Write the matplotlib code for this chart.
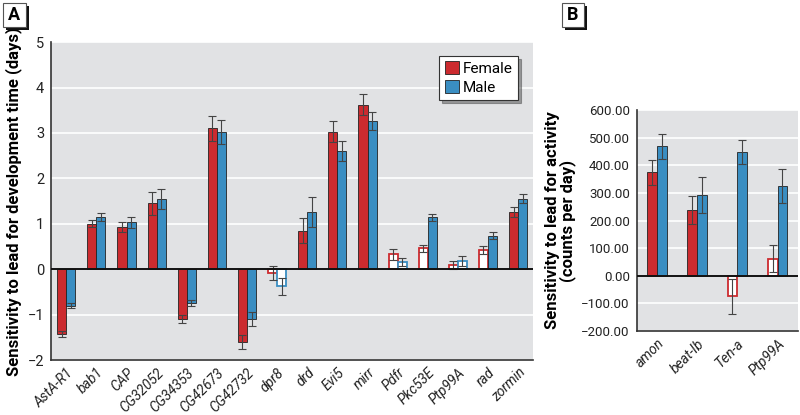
import matplotlib

matplotlib.use("Agg")
import matplotlib.pyplot as plt
import matplotlib.patches as mpatches
import numpy as np

RED = "#cc2b2f"
BLUE = "#3a8ec2"
BG = "#e1e2e4"
DARK = "#333333"

plt.rcParams["font.family"] = ["Roboto", "DejaVu Sans"]

# ── Panel A data ─────────────────────────────────────────────────────────────
genes_a = ["AstA-R1", "bab1", "CAP", "CG32052", "CG34353", "CG42673", "CG42732",
           "dpr8", "drd", "Evi5", "mirr", "Pdfr", "Pkc53E", "Ptp99A", "rad", "zormin"]
female_a = [-1.43, 1.00, 0.93, 1.45, -1.10, 3.10, -1.60, -0.08, 0.85, 3.03, 3.62,
            0.33, 0.46, 0.09, 0.42, 1.26]
female_a_err = [0.06, 0.08, 0.11, 0.25, 0.09, 0.27, 0.15, 0.16, 0.28, 0.23, 0.23,
                0.12, 0.08, 0.09, 0.09, 0.10]
male_a = [-0.80, 1.15, 1.03, 1.55, -0.75, 3.02, -1.10, -0.38, 1.25, 2.60, 3.27,
          0.16, 1.14, 0.19, 0.74, 1.55]
male_a_err = [0.05, 0.09, 0.13, 0.22, 0.07, 0.26, 0.15, 0.18, 0.33, 0.22, 0.20,
              0.08, 0.07, 0.11, 0.07, 0.10]
female_a_open = [False] * 7 + [True, False, False, False, True, True, True, True, False]
male_a_open = [False] * 7 + [True, False, False, False, True, False, True, False, False]

# ── Panel B data ─────────────────────────────────────────────────────────────
genes_b = ["amon", "beat-Ib", "Ten-a", "Ptp99A"]
female_b = [375, 238, -75, 62]
female_b_err = [45, 50, 62, 48]
male_b = [468, 293, 448, 325]
male_b_err = [45, 65, 45, 62]
female_b_open = [False, False, True, True]
male_b_open = [False, False, False, False]


def draw_bars(ax, vals, errs, opens, offset, width, color):
    x = np.arange(len(vals)) + offset
    for xi, v, e, o in zip(x, vals, errs, opens):
        if o:
            ax.bar(xi, v, width, facecolor="white", edgecolor=color, linewidth=1.3, zorder=3)
        else:
            ax.bar(xi, v, width, facecolor=color, edgecolor="#222222", linewidth=0.6, zorder=3)
        ax.errorbar(xi, v, yerr=e, fmt="none", ecolor="#444444", elinewidth=0.8,
                    capsize=3, capthick=0.8, zorder=4)


def style_axes(ax, ysize=10.5):
    ax.set_facecolor(BG)
    ax.grid(axis="y", color="white", linewidth=1.2, zorder=0)
    ax.set_axisbelow(True)
    for s in ["top", "right"]:
        ax.spines[s].set_visible(False)
    ax.spines["left"].set_color(DARK)
    ax.spines["bottom"].set_color(DARK)
    ax.spines["left"].set_linewidth(1.2)
    ax.spines["bottom"].set_linewidth(1.2)
    ax.tick_params(axis="y", length=0, labelsize=ysize, colors="#222222", pad=5)
    ax.tick_params(axis="x", length=0, labelsize=10, colors="#222222", pad=4)
    ax.axhline(0, color="#111111", linewidth=1.4, zorder=5)


def panel_label(fig, x, y, text):
    w, h = 0.028, 0.058
    fig.patches.append(mpatches.Rectangle((x + 0.004, y - 0.008), w, h, transform=fig.transFigure,
                                          facecolor="#111111", edgecolor="none", zorder=1))
    fig.patches.append(mpatches.Rectangle((x, y), w, h, transform=fig.transFigure,
                                          facecolor="white", edgecolor="#555555",
                                          linewidth=0.8, zorder=2))
    fig.text(x + w / 2, y + h / 2, text, ha="center", va="center", fontsize=13,
             fontweight="bold", zorder=3)


fig = plt.figure(figsize=(8, 4.15), dpi=100)
fig.patch.set_facecolor("white")

# ── Panel A ─────────────────────────────────────────────────────────────────
ax1 = fig.add_axes([0.064, 0.1325, 0.6025, 0.766])
style_axes(ax1)
w = 0.3
draw_bars(ax1, female_a, female_a_err, female_a_open, -w / 2, w, RED)
draw_bars(ax1, male_a, male_a_err, male_a_open, w / 2, w, BLUE)
ax1.set_xlim(-0.5, len(genes_a) - 0.5)
ax1.set_ylim(-2, 5)
ax1.set_yticks(range(-2, 6))
ax1.set_yticklabels(["\u22122", "\u22121", "0", "1", "2", "3", "4", "5"])
ax1.set_xticks(range(len(genes_a)))
ax1.set_xticklabels(genes_a, rotation=45, ha="right", rotation_mode="anchor",
                    style="italic")
ax1.set_ylabel("Sensitivity to lead for development time (days)", fontsize=12,
               fontweight="bold", labelpad=4)

handles = [mpatches.Patch(facecolor=RED, edgecolor="#222222", linewidth=0.6, label="Female"),
           mpatches.Patch(facecolor=BLUE, edgecolor="#222222", linewidth=0.6, label="Male")]
leg = ax1.legend(handles=handles, loc="upper right", fontsize=11, frameon=True,
                 fancybox=False, shadow=True, handlelength=0.9, handleheight=0.9,
                 handletextpad=0.3, borderpad=0.35, labelspacing=0.25,
                 bbox_to_anchor=(0.985, 0.98))
leg.get_frame().set_edgecolor("#333333")
leg.get_frame().set_linewidth(0.8)

# ── Panel B ─────────────────────────────────────────────────────────────────
ax2 = fig.add_axes([0.796, 0.2024, 0.201, 0.5325])
style_axes(ax2, ysize=9.5)
wb = 0.24
draw_bars(ax2, female_b, female_b_err, female_b_open, -wb / 2, wb, RED)
draw_bars(ax2, male_b, male_b_err, male_b_open, wb / 2, wb, BLUE)
ax2.set_xlim(-0.5, len(genes_b) - 0.5)
ax2.set_ylim(-200, 600)
yt = list(range(-200, 601, 100))
ax2.set_yticks(yt)
ax2.set_yticklabels([f"{v:.2f}".replace("-", "\u2212") for v in yt])
ax2.set_xticks(range(len(genes_b)))
ax2.set_xticklabels(genes_b, rotation=45, ha="right", rotation_mode="anchor",
                    style="italic")
ax2.set_ylabel("Sensitivity to lead for activity\n(counts per day)", fontsize=12,
               fontweight="bold", labelpad=4, linespacing=0.95)

panel_label(fig, 0.004, 0.935, "A")
panel_label(fig, 0.702, 0.935, "B")

fig.savefig("out.png", dpi=100, facecolor="white")
